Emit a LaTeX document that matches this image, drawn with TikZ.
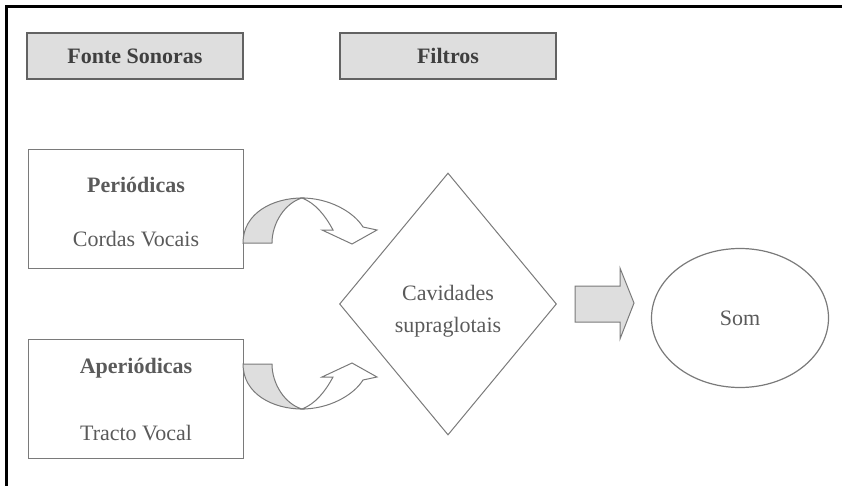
\documentclass[tikz,border=0pt]{standalone}
\usepackage{fontspec}
\setmainfont{Liberation Serif}
\usetikzlibrary{shapes.geometric}
\definecolor{boxgray}{HTML}{DEDEDE}
\definecolor{inkgray}{HTML}{5A5A5A}
\definecolor{linegray}{HTML}{7A7A7A}
\newcommand{\bodyfont}{\fontsize{22}{32}\selectfont}

\tikzset{
  header/.style = {draw=linegray!80!black, line width=1.3pt, fill=boxgray,
    minimum width=216pt, minimum height=46pt, text=inkgray!70!black,
    font=\bodyfont\bfseries},
  srcbox/.style = {draw=linegray, line width=1pt, minimum width=215pt,
    minimum height=119pt},
  label/.style = {text=inkgray, font=\bodyfont},
  arrowfill/.style = {draw=linegray, line width=1pt, fill=boxgray},
  arrowline/.style = {draw=linegray, line width=1pt, fill=white},
  bendarrow/.pic = {
    \draw [arrowfill] (0,0) .. controls (0,-30) and (30,-45) .. (59,-45)
      .. controls (42,-40) and (29,-20) .. (29,0) -- cycle;
    \draw [arrowline] (59,-45) .. controls (85,-45) and (110,-32) .. (120,-16)
      -- (134,-13) -- (109,1) -- (79,-13) -- (90,-13)
      .. controls (82,-28) and (72,-40) .. (59,-45) -- cycle;
  }
}

\begin{document}
\begin{tikzpicture}[x=1pt, y=-1pt]
  \useasboundingbox (0,0) rectangle (842,486);
  \draw [line width=2.5pt] (6.5,486) -- (6.5,6.5) -- (842,6.5);
  \node (HF) at (135, 56) [header] {Fonte Sonoras};
  \node (HR) at (448, 56) [header] {Filtros};
  \node (PB) at (136, 209) [srcbox] {};
  \node (PT) at (136, 185) [label] {\bfseries Periódicas};
  \node (PS) at (136, 239) [label] {Cordas Vocais};
  \node (AB) at (136, 398.5) [srcbox] {};
  \node (AT) at (136, 368) [label] {\bfseries Aperiódicas};
  \node (AS) at (136, 433) [label] {Tracto Vocal};
  \node (CS) at (448, 304) [diamond, draw=linegray, line width=1pt,
    minimum width=217pt, minimum height=262pt, inner sep=0pt] {};
  \node (CT) at (448, 311) [label, align=center] {Cavidades\\supraglotais};
  \node (SO) at (740, 318) [ellipse, draw=linegray, line width=1.2pt,
    minimum width=177pt, minimum height=139pt, label] {Som};
  \pic at (243, 243) {bendarrow};
  \pic [yscale=-1] at (243, 364) {bendarrow};
  \draw [arrowfill] (575,286) -- (620,286) -- (620,268) -- (634,303)
    -- (620,339) -- (620,322) -- (575,322) -- cycle;
\end{tikzpicture}
\end{document}
